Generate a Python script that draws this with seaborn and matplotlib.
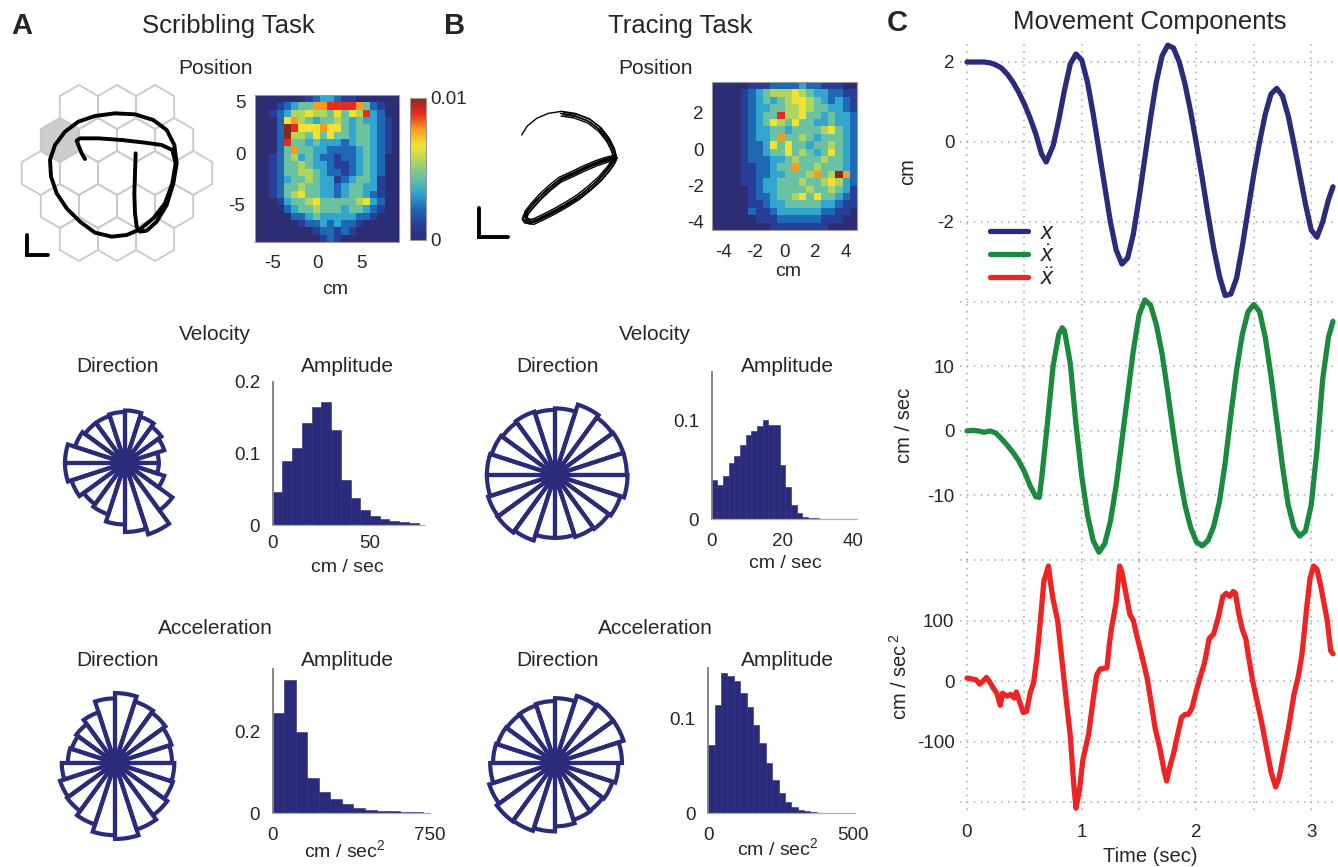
import numpy as np
import pandas as pd
import matplotlib
matplotlib.use("Agg")
import matplotlib.pyplot as plt
import seaborn as sns
from matplotlib.patches import RegularPolygon
from matplotlib.colors import LinearSegmentedColormap
from matplotlib.lines import Line2D

# ============================ DATA ============================
# --- Panel A: scribble trajectory (drawing-frame units) and scale bar
A_TRAJ_X = [362, 360, 358, 360, 365, 375, 395, 425, 455, 475, 485, 478, 455, 415, 360, 300, 240, 190,
            150, 120, 105, 108, 125, 155, 195, 240, 290, 335, 375, 415, 450, 472, 482, 472, 440, 390,
            320, 250, 195, 185, 192, 200, 210]
A_TRAJ_Y = [220, 280, 340, 400, 440, 455, 452, 425, 375, 310, 250, 195, 150, 120, 103, 100, 108, 125,
            155, 195, 240, 290, 340, 385, 425, 458, 470, 465, 448, 415, 370, 310, 250, 210, 195, 188,
            180, 175, 175, 182, 200, 220, 237]
A_BAR_X = [35, 35, 100]
A_BAR_Y = [465, 525, 525]

# --- Panel B: tracing trajectory (drawing-frame units)
B_ARC_X = [245, 262, 290, 325, 365, 405, 445, 478, 503, 518, 525]
B_ARC_Y = [255, 228, 205, 190, 184, 190, 205, 230, 262, 292, 320]
B_ARC_SHIFT_X = [0, -4, 3, -2, 5]
B_ARC_SHIFT_Y = [0, 6, 10, 14, 3]
B_LOOP_X = [525, 500, 470, 430, 395, 360, 330, 300, 275, 258, 255, 262, 280, 310, 345, 380, 415,
            450, 480, 505, 520, 525]
B_LOOP_Y = [322, 328, 338, 355, 372, 388, 412, 440, 468, 490, 502, 512, 514, 500, 482, 462, 440,
            412, 385, 356, 335, 322]
B_LOOP_SHIFT_X = [0, -5, 4, -8, 6, -3, 2]
B_LOOP_SHIFT_Y = [0, 4, -4, 7, 2, -6, 9]
B_BAR_X = [118, 118, 205]
B_BAR_Y = [475, 560, 560]

# --- Position occupancy maps (level 0..9 of max 0.01)
HEAT_MAX = 0.01
HEAT_A = ["00000001233211000000",
          "00012344778888742100",
          "00123556554646583200",
          "00026754344543433210",
          "00029866676643443210",
          "00029554646443443210",
          "00028443433323443210",
          "00024744332222343210",
          "00124534322122343200",
          "00124454332112343200",
          "00124455432212343200",
          "00123445433123443100",
          "00124454433234433100",
          "00124564433234432100",
          "00013445644444563200",
          "00002344544434432100",
          "00000223433333221000",
          "00000012232322100000",
          "00000000122121000000",
          "00000000012100000000"]
HEAT_B = ["00000111222232211100",
          "00001234555654332211",
          "00001234345665432321",
          "00001233445565443321",
          "00001234485564434332",
          "00001234654644334332",
          "00001233443444456432",
          "00001233474454344432",
          "00001223646443445432",
          "00001223446454346432",
          "00001222334544454432",
          "00001122344744544432",
          "00001122334445745972",
          "00001123344454456532",
          "00000123344445445431",
          "00000122344564644321",
          "00000112334444433211",
          "00000211233333322110",
          "00000011122222211100",
          "00000000111111110000"]
HEAT_A_XR = (-7.0, 9.2)
HEAT_A_YR = (-8.6, 5.65)
HEAT_A_XT = [-5, 0, 5]
HEAT_A_YT = [5, 0, -5]
HEAT_B_XR = (-4.75, 4.7)
HEAT_B_YR = (-4.45, 3.7)
HEAT_B_XT = [-4, -2, 0, 2, 4]
HEAT_B_YT = [2, 0, -2, -4]

# --- Direction roses (20 bins, relative radius)
ROSE_A_VEL = [0.45, 0.55, 0.60, 0.65, 0.70, 0.68, 0.66, 0.66, 0.70, 0.80,
              0.80, 0.75, 0.68, 0.72, 0.82, 0.92, 1.00, 0.78, 0.55, 0.45]
ROSE_A_ACC = [0.75, 0.78, 0.82, 0.85, 0.92, 0.85, 0.70, 0.63, 0.60, 0.62,
              0.70, 0.76, 0.78, 0.85, 0.95, 1.00, 0.92, 0.85, 0.80, 0.78]
ROSE_B_VEL = [0.97, 0.97, 0.96, 1.00, 0.90, 0.88, 0.90, 0.88, 0.90, 0.92,
              0.92, 0.95, 0.96, 0.93, 0.85, 0.85, 0.88, 0.90, 0.93, 0.98]
ROSE_B_ACC = [0.93, 1.00, 1.00, 0.98, 0.90, 0.86, 0.84, 0.83, 0.84, 0.86,
              0.90, 0.96, 1.00, 0.99, 0.95, 0.88, 0.83, 0.82, 0.84, 0.88]

# --- Amplitude histograms (bin width, fraction per bin)
HIST_A_VEL_W = 5.0
HIST_A_VEL = [0.046, 0.090, 0.108, 0.143, 0.164, 0.172, 0.133, 0.063, 0.037, 0.021,
              0.0125, 0.008, 0.0055, 0.004, 0.0025]
HIST_B_VEL_W = 1.6
HIST_B_VEL = [0.040, 0.035, 0.044, 0.057, 0.064, 0.075, 0.085, 0.090, 0.095, 0.101,
              0.096, 0.096, 0.055, 0.033, 0.014, 0.006, 0.0024, 0.001, 0.0008, 0.0005]
HIST_A_ACC_W = 55.0
HIST_A_ACC = [0.245, 0.327, 0.200, 0.086, 0.053, 0.035, 0.022, 0.014, 0.009, 0.0065,
              0.0045, 0.003, 0.002]
HIST_B_ACC_W = 22.0
HIST_B_ACC = [0.072, 0.115, 0.149, 0.146, 0.140, 0.127, 0.113, 0.094, 0.074, 0.053,
              0.035, 0.021, 0.012, 0.0064, 0.0035, 0.002, 0.001, 0.0008, 0.0005, 0.0004]

# --- Panel C: movement components
T_X = [0.00, 0.05, 0.10, 0.15, 0.20, 0.25, 0.30, 0.35, 0.40, 0.45, 0.50, 0.55, 0.60, 0.65, 0.69,
       0.75, 0.80, 0.85, 0.90, 0.95, 1.00, 1.05, 1.10, 1.15, 1.20, 1.25, 1.30, 1.35, 1.40, 1.45,
       1.50, 1.55, 1.60, 1.65, 1.70, 1.75, 1.80, 1.85, 1.90, 1.95, 2.00, 2.05, 2.10, 2.15, 2.20,
       2.25, 2.30, 2.35, 2.40, 2.45, 2.50, 2.55, 2.60, 2.65, 2.70, 2.75, 2.80, 2.85, 2.90, 2.95,
       3.00, 3.05, 3.10, 3.15, 3.19]
POS = [2.0, 2.0, 2.0, 2.0, 1.98, 1.93, 1.85, 1.7, 1.5, 1.25, 0.95, 0.6, 0.2, -0.3, -0.5,
       -0.1, 0.55, 1.3, 1.95, 2.2, 2.05, 1.5, 0.7, -0.2, -1.1, -2.0, -2.7, -3.05, -2.9, -2.3,
       -1.4, -0.4, 0.6, 1.5, 2.15, 2.42, 2.35, 2.0, 1.45, 0.75, -0.05, -0.9, -1.8, -2.65, -3.35,
       -3.84, -3.8, -3.4, -2.6, -1.7, -0.8, 0.0, 0.7, 1.2, 1.34, 1.15, 0.65, -0.05, -0.8, -1.55,
       -2.2, -2.38, -2.0, -1.45, -1.12]
T_V = [0.00, 0.05, 0.10, 0.15, 0.20, 0.25, 0.30, 0.35, 0.40, 0.45, 0.50, 0.55, 0.60, 0.63, 0.65,
       0.70, 0.75, 0.80, 0.83, 0.85, 0.90, 0.95, 1.00, 1.05, 1.10, 1.15, 1.20, 1.25, 1.30, 1.35,
       1.40, 1.45, 1.50, 1.55, 1.60, 1.65, 1.70, 1.75, 1.80, 1.85, 1.90, 1.95, 2.00, 2.05, 2.10,
       2.15, 2.20, 2.25, 2.30, 2.35, 2.40, 2.45, 2.50, 2.55, 2.60, 2.65, 2.70, 2.75, 2.80, 2.85,
       2.90, 2.95, 3.00, 3.05, 3.10, 3.15, 3.19]
VEL = [0.0, 0.1, 0.0, -0.2, 0.0, -0.3, -1.2, -2.2, -3.3, -4.6, -6.3, -8.5, -10.2, -10.3, -7.5,
       1.0, 10.0, 15.0, 16.0, 15.5, 10.5, 1.0, -7.0, -13.0, -17.0, -18.8, -17.5, -14.0, -8.5, -1.5,
       5.5, 12.5, 18.0, 20.3, 19.5, 16.5, 12.0, 6.0, -0.5, -6.5, -11.5, -15.0, -17.2, -17.8, -17.0,
       -14.8, -11.0, -5.0, 2.5, 9.5, 15.0, 18.5, 19.6, 18.5, 14.5, 8.5, 1.5, -5.5, -11.5, -15.0,
       -16.3, -15.5, -11.5, -3.0, 8.0, 14.5, 17.0]
T_A = [0.00, 0.03, 0.08, 0.11, 0.14, 0.17, 0.20, 0.23, 0.26, 0.29,
       0.31, 0.35, 0.38, 0.41, 0.43, 0.46, 0.49, 0.52, 0.55, 0.58,
       0.61, 0.64, 0.67, 0.71, 0.73, 0.75, 0.79, 0.83, 0.87, 0.90,
       0.93, 0.95, 0.98, 1.01, 1.06, 1.10, 1.13, 1.16, 1.22, 1.24,
       1.26, 1.30, 1.33, 1.35, 1.38, 1.42, 1.45, 1.48, 1.52, 1.57,
       1.60, 1.64, 1.68, 1.72, 1.74, 1.77, 1.80, 1.84, 1.87, 1.90,
       1.93, 1.96, 2.00, 2.03, 2.07, 2.11, 2.15, 2.19, 2.23, 2.26,
       2.29, 2.32, 2.34, 2.37, 2.40, 2.43, 2.45, 2.49, 2.53, 2.57,
       2.61, 2.65, 2.69, 2.72, 2.76, 2.80, 2.85, 2.89, 2.92, 2.96,
       2.99, 3.02, 3.05, 3.08, 3.11, 3.14, 3.17, 3.19]
ACC = [5, 4, 2, -5, 0, 6, -2, -12, -20, -40,
       -20, -25, -22, -28, -18, -35, -52, -50, -20, -3,
       40, 100, 165, 190, 160, 135, 100, 30, -40, -90,
       -170, -210, -180, -130, -88, -30, 10, 20, 22, 60,
       88, 130, 190, 180, 150, 110, 100, 75, 45, 5,
       -30, -78, -110, -150, -165, -140, -120, -85, -60, -55,
       -55, -45, -15, 5, 30, 70, 78, 105, 140, 145,
       140, 148, 145, 110, 85, 70, 45, 0, -35, -70,
       -110, -150, -175, -160, -120, -80, -22, 10, 45, 120,
       170, 190, 185, 160, 130, 100, 50, 45]
LEGEND_LABELS = ["$x$", "$\\dot{x}$", "$\\ddot{x}$"]

# ============================ STYLE ============================
NAVY = "#2b2b7b"
GREEN = "#1c8a3e"
RED = "#ee2424"
HEAT_COLORS = ["#2c2d72", "#273f99", "#1f6ab5", "#33a6cf", "#6cc2a2",
               "#b0d45e", "#efe232", "#f6a021", "#ea2a1f", "#8a2a1e"]
HEAT_CMAP = LinearSegmentedColormap.from_list("heat", HEAT_COLORS)

sns.set_theme(style="white")
plt.rcParams["font.family"] = ["Liberation Sans", "DejaVu Sans"]
plt.rcParams["mathtext.fontset"] = "custom"
plt.rcParams["mathtext.rm"] = "Liberation Sans"
plt.rcParams["mathtext.it"] = "Liberation Sans:italic"
plt.rcParams["mathtext.bf"] = "Liberation Sans:bold"

W, H = 1338, 867
fig = plt.figure(figsize=(W / 100, H / 100), dpi=100)
fig.patch.set_facecolor("white")
TICK = 13.5
SUB = 15
TITLE = 18.5


def ax_px(x0, y0, x1, y1, **kw):
    return fig.add_axes([x0 / W, 1 - y1 / H, (x1 - x0) / W, (y1 - y0) / H], **kw)


def txt(x, y, s, size=SUB, **kw):
    ha = kw.pop("ha", "center")
    va = kw.pop("va", "center")
    fig.text(x / W, 1 - y / H, s, fontsize=size, ha=ha, va=va, **kw)


# ---------------- headings ----------------
txt(22, 26, "A", 21, weight="bold")
txt(228, 26, "Scribbling Task", TITLE)
txt(455, 26, "B", 21, weight="bold")
txt(680, 26, "Tracing Task", TITLE)
txt(897, 23, "C", 21, weight="bold")
txt(1150, 22, "Movement Components", TITLE)

for cx in (215, 655):
    txt(cx, 68, "Position")
    txt(cx, 334, "Velocity")
    txt(cx, 629, "Acceleration")
for cx in (117, 557):
    txt(cx, 367, "Direction")
    txt(cx, 660, "Direction")
for cx in (347, 787):
    txt(cx, 367, "Amplitude")
    txt(cx, 660, "Amplitude")

# ---------------- hexagon arena + scribble ----------------
axh = ax_px(15, 80, 225, 265)
HEX_R, HEX_CX, HEX_CY = 66, 306, 279
for r, n in enumerate([3, 4, 5, 4, 3]):
    yy = HEX_CY + (r - 2) * 1.5 * HEX_R
    for i in range(n):
        xx = HEX_CX + (i - (n - 1) / 2) * np.sqrt(3) * HEX_R
        shaded = (r == 1 and i == 0)
        axh.add_patch(RegularPolygon((xx, yy), 6, radius=HEX_R, orientation=0,
                                     facecolor="#cdcdcd" if shaded else "none",
                                     edgecolor="#c9c9c9", lw=1.3))
sns.lineplot(x=A_TRAJ_X, y=A_TRAJ_Y, sort=False, estimator=None, ax=axh, color="black", lw=2.8)
axh.plot(A_BAR_X, A_BAR_Y, color="black", lw=2.8, solid_joinstyle="miter")
axh.set_xlim(0, 630)
axh.set_ylim(555, 0)
axh.axis("off")

# ---------------- tracing trajectory ----------------
axt = ax_px(473.3, 100, 626.7, 240)
for dx, dy in zip(B_ARC_SHIFT_X, B_ARC_SHIFT_Y):
    k = 0 if (dx == 0 and dy == 0) else 4
    axt.plot(np.array(B_ARC_X[k:]) + dx, np.array(B_ARC_Y[k:]) + dy, color="black", lw=1.0)
for dx, dy in zip(B_LOOP_SHIFT_X, B_LOOP_SHIFT_Y):
    sns.lineplot(x=np.array(B_LOOP_X) + dx, y=np.array(B_LOOP_Y) + dy, sort=False,
                 estimator=None, ax=axt, color="black", lw=1.0)
axt.plot(B_BAR_X, B_BAR_Y, color="black", lw=2.8, solid_joinstyle="miter")
axt.set_xlim(100, 560)
axt.set_ylim(570, 150)
axt.axis("off")


# ---------------- heatmaps ----------------
def draw_heat(ax, rows, xr, yr, xt, yt, cbar_ax=None, xpad=9, ypad=7):
    Z = np.array([[int(c) for c in r] for r in rows], dtype=float) / 9.0 * HEAT_MAX
    sns.heatmap(Z, ax=ax, cmap=HEAT_CMAP, vmin=0, vmax=HEAT_MAX,
                cbar=cbar_ax is not None, cbar_ax=cbar_ax,
                xticklabels=False, yticklabels=False)
    nr, nc = Z.shape
    ax.set_xticks([(v - xr[0]) / (xr[1] - xr[0]) * nc for v in xt])
    ax.set_xticklabels([f"{v:g}" for v in xt])
    ax.set_yticks([(yr[1] - v) / (yr[1] - yr[0]) * nr for v in yt])
    ax.set_yticklabels([f"{v:g}" for v in yt], rotation=0)
    ax.tick_params(axis="x", length=0, labelsize=TICK, pad=xpad)
    ax.tick_params(axis="y", length=0, labelsize=TICK, pad=ypad)
    for s in ax.spines.values():
        s.set_visible(True)
        s.set_color("#9a9a9a")
        s.set_linewidth(0.8)
    ax.set_xlabel("")
    ax.set_ylabel("")


axhA = ax_px(255, 95, 399, 242)
cax = ax_px(410, 98, 426, 240)
draw_heat(axhA, HEAT_A, HEAT_A_XR, HEAT_A_YR, HEAT_A_XT, HEAT_A_YT, cbar_ax=cax, xpad=9, ypad=7)
cb = axhA.collections[0].colorbar
cb.set_ticks([0, HEAT_MAX])
cb.set_ticklabels(["0", "0.01"])
cb.ax.tick_params(length=0, labelsize=TICK, pad=3)
cb.outline.set_edgecolor("#9a9a9a")
cb.outline.set_linewidth(0.8)
txt(335, 290, "cm", TICK + 0.5)

axhB = ax_px(712, 82, 857, 230)
draw_heat(axhB, HEAT_B, HEAT_B_XR, HEAT_B_YR, HEAT_B_XT, HEAT_B_YT, xpad=10, ypad=6)
txt(788, 272, "cm", TICK + 0.5)


# ---------------- direction roses ----------------
def draw_rose(cx, cy, radii, rmax_px, half=85):
    ax = ax_px(cx - half, cy - half, cx + half, cy + half, projection="polar")
    n = len(radii)
    theta = np.deg2rad(np.arange(n) * 360.0 / n + 180.0 / n)
    ax.bar(theta, radii, width=2 * np.pi / n, bottom=0, color="white", edgecolor="none", align="center")
    ax.bar(theta, radii, width=2 * np.pi / n, bottom=0, fill=False, edgecolor=NAVY,
           linewidth=3.0, align="center")
    ax.set_ylim(0, max(radii) * half / rmax_px)
    ax.axis("off")


draw_rose(125, 463, ROSE_A_VEL, 75)
draw_rose(115, 763, ROSE_A_ACC, 76)
draw_rose(555, 475, ROSE_B_VEL, 74)
draw_rose(555, 763, ROSE_B_ACC, 72)


# ---------------- amplitude histograms ----------------
def draw_hist(box, heights, width, xlim, ylim, xt, yt, yl, xpad=7, ypad=8):
    ax = ax_px(*box)
    edges = [i * width for i in range(len(heights) + 1)]
    df = pd.DataFrame({"amp": [e + width / 2 for e in edges[:-1]], "frac": heights})
    sns.histplot(data=df, x="amp", weights="frac", bins=edges, ax=ax, color=NAVY, alpha=1,
                 edgecolor=NAVY, linewidth=0.4)
    ax.set_xlim(*xlim)
    ax.set_ylim(*ylim)
    ax.set_xticks(xt)
    ax.set_xticklabels([f"{v:g}" for v in xt])
    ax.set_yticks(yt)
    ax.set_yticklabels(yl)
    ax.tick_params(axis="x", length=0, labelsize=TICK, pad=xpad)
    ax.tick_params(axis="y", length=0, labelsize=TICK, pad=ypad)
    ax.set_xlabel("")
    ax.set_ylabel("")
    ax.patch.set_alpha(0)
    for s in ("top", "right"):
        ax.spines[s].set_visible(False)
    ax.spines["left"].set_color("#7d7d7d")
    ax.spines["left"].set_linewidth(1.3)
    ax.spines["bottom"].set_color("#b0b0b0")
    ax.spines["bottom"].set_linewidth(0.9)
    return ax


draw_hist((272.7, 381.7, 424.5, 525), HIST_A_VEL, HIST_A_VEL_W, (0, 78), (0, 0.2),
          [0, 50], [0, 0.1, 0.2], ["0", "0.1", "0.2"], xpad=7, ypad=9)
txt(347, 568, "cm / sec", TICK + 0.5)
draw_hist((711.7, 371.5, 856.8, 519), HIST_B_VEL, HIST_B_VEL_W, (0, 41), (0, 0.15),
          [0, 20, 40], [0, 0.1], ["0", "0.1"], xpad=10, ypad=9)
txt(785, 563, "cm / sec", TICK + 0.5)
draw_hist((272.7, 668.5, 430, 813.3), HIST_A_ACC, HIST_A_ACC_W, (0, 750), (0, 0.355),
          [0, 750], [0, 0.2], ["0", "0.2"], xpad=10, ypad=9)
txt(345, 850, "cm / sec$^2$", TICK + 0.5)
draw_hist((708.3, 668, 854.8, 813.3), HIST_B_ACC, HIST_B_ACC_W, (0, 505), (0, 0.154),
          [0, 500], [0, 0.1], ["0", "0.1"], xpad=10, ypad=9)
txt(778, 848, "cm / sec$^2$", TICK + 0.5)

# ---------------- panel C ----------------
axC = [ax_px(960, 42, 1333, 300), ax_px(960, 300, 1333, 560), ax_px(960, 560, 1333, 810)]
series = [(T_X, POS, NAVY), (T_V, VEL, GREEN), (T_A, ACC, RED)]
ylims = [(-3.95, 2.5), (-19.7, 20.3), (-213, 197)]
majors = [[-2, 0, 2], [-10, 0, 10], [-100, 0, 100]]
minors = [[], [-20, 20], [-200, 200]]
for k, ax in enumerate(axC):
    t, v, c = series[k]
    ax.patch.set_alpha(0)
    sns.lineplot(x=t, y=v, ax=ax, color=c, lw=3.8, estimator=None, sort=False, clip_on=False,
                 zorder=3)
    ax.set_xlim(-0.061, 3.19)
    ax.set_ylim(*ylims[k])
    ax.set_xticks([0, 1, 2, 3])
    ax.set_xticks([0.5, 1.5, 2.5], minor=True)
    ax.set_yticks(majors[k])
    ax.set_yticklabels([f"{m:g}" for m in majors[k]])
    ax.set_yticks(minors[k], minor=True)
    ax.grid(True, which="both", color="#a8a8a8", linestyle=(0, (1, 3.5)), linewidth=1.1)
    ax.tick_params(which="both", length=0, labelsize=TICK)
    ax.tick_params(axis="y", pad=4)
    ax.tick_params(axis="x", pad=10)
    for s in ax.spines.values():
        s.set_visible(False)
    ax.set_xlabel("")
    ax.set_ylabel("")
    if k < 2:
        ax.tick_params(axis="x", labelbottom=False)
for ax in axC[:2]:
    ax.set_zorder(2)

txt(908, 172, "cm", TICK + 1, rotation=90)
txt(905, 425, "cm / sec", TICK + 1, rotation=90)
txt(900, 677, "cm / sec$^{\\,2}$", TICK + 1, rotation=90)
txt(1150, 856, "Time (sec)", TICK + 1)

handles = [Line2D([0], [0], color=c, lw=3.8) for c in (NAVY, GREEN, RED)]
axC[0].legend(handles, LEGEND_LABELS, loc="upper left",
              bbox_to_anchor=((990 - 960) / 373, 1 - (222 - 42) / 258),
              frameon=False, fontsize=17, handlelength=1.6, handletextpad=0.5,
              labelspacing=0.05, borderaxespad=0, borderpad=0)

fig.savefig("out.png", dpi=100, facecolor="white")
